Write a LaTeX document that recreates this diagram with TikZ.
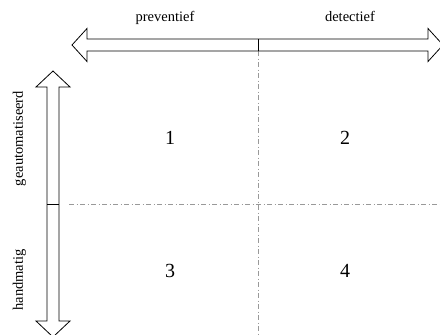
\documentclass[tikz,border=0pt]{standalone}
\usepackage{fontspec}
\setmainfont{Liberation Serif}
\begin{document}
\begin{tikzpicture}[x=1pt,y=-1pt,
  axisarrow/.style={draw=black,line width=0.8pt,fill=white,line join=miter},
  divider/.style={draw=black,line width=0.8pt},
  gridline/.style={draw=black!40,line width=0.6pt,dash pattern=on 5pt off 2.5pt on 1pt off 2.5pt},
  axislabel/.style={font=\fontsize{14.5}{16}\selectfont,inner sep=0pt},
  cellnum/.style={font=\fontsize{20}{22}\selectfont,inner sep=0pt}]
\useasboundingbox (0,0) rectangle (440,335);

% quadrant separators
\draw[gridline] (258,51) -- (258,336);
\draw[gridline] (69,204.5) -- (441,204.5);

% horizontal double arrow: preventief <-> detectief
\draw[axisarrow] (72,45) -- (87,28.5) -- (87,39) -- (428,39) -- (428,28.5)
  -- (443,45) -- (428,61.5) -- (428,51) -- (87,51) -- (87,61.5) -- cycle;
\draw[divider] (258,39) -- (258,51);

% vertical double arrow: geautomatiseerd <-> handmatig
\draw[axisarrow] (53,71) -- (70,87) -- (59,87) -- (59,321) -- (70,321)
  -- (53,337) -- (36,321) -- (47,321) -- (47,87) -- (36,87) -- cycle;
\draw[divider] (47,204) -- (59,204);

% axis labels
\node[axislabel,anchor=base] (prev) at (165,21) {preventief};
\node[axislabel,anchor=base] (det) at (350,21) {detectief};
\node[axislabel,anchor=base,rotate=90] (auto) at (23,138.5) {geautomatiseerd};
\node[axislabel,anchor=base,rotate=90] (hand) at (23,280) {handmatig};

% quadrant numbers
\node[cellnum] (q1) at (170,138) {1};
\node[cellnum] (q2) at (345,138) {2};
\node[cellnum] (q3) at (170,271) {3};
\node[cellnum] (q4) at (345,271) {4};
\end{tikzpicture}
\end{document}
